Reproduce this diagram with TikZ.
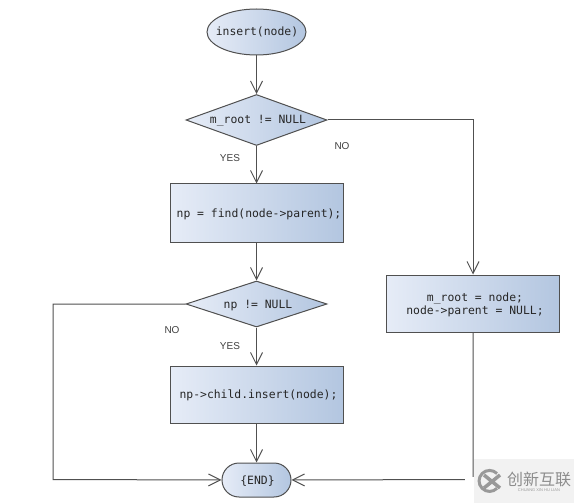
\documentclass[tikz,border=0pt]{standalone}
\usepackage{fontspec}
\setmainfont{Liberation Sans}
\setmonofont{DejaVu Sans Mono}
\newfontfamily\cjkfont{Noto Sans CJK SC}
\usetikzlibrary{shapes.geometric,shapes.misc,arrows.meta}
\definecolor{lineg}{HTML}{505050}
\definecolor{shadeL}{HTML}{E6ECF7}
\definecolor{shadeR}{HTML}{B3C6E0}
% text placed with a known offset from the centre of its node
\newcommand{\tl}[3][-4pt]{\raisebox{#1}[0pt][0pt]{\makebox[0pt]{\hspace{#2}#3}}}
\tikzset{
  x=1pt,y=-1pt,
  flow/.style={draw=lineg,line width=1pt,left color=shadeL,right color=shadeR,inner sep=0pt,
    font=\fontsize{11.4}{12}\selectfont\ttfamily,text=black!85},
  procbox/.style={flow,rectangle,minimum width=173pt,minimum height=58pt},
  decision/.style={flow,diamond,minimum width=141pt,minimum height=51pt,aspect=2.76},
  startnode/.style={flow,ellipse,minimum width=99pt,minimum height=46pt},
  endnode/.style={flow,rounded rectangle,minimum width=69pt,minimum height=34pt},
  conn/.style={draw=lineg,line width=1pt,-{Straight Barb[length=12pt,width=12pt,line width=1pt]}},
  lab/.style={font=\fontsize{10}{12}\selectfont,text=black!75,inner sep=0pt},
}
\begin{document}
\begin{tikzpicture}
\useasboundingbox (0,0) rectangle (574,503);
\fill[white] (0,0) rectangle (574,503);
\node[startnode] (start) at (256.5,32) {\tl{1pt}{insert(node)}};
\node[decision] (d1) at (256.5,120) {\tl{3pt}{m\_root != NULL}};
\node[procbox] (find) at (256.5,213) {\tl{5pt}{np = find(node->parent);}};
\node[decision,minimum height=46pt,aspect=3.04] (d2) at (256.5,304) {\tl{3pt}{np != NULL}};
\node[procbox,minimum height=57pt] (ins) at (256.5,394.5) {\tl{4pt}{np->child.insert(node);}};
\node[endnode] (end) at (256.5,480) {\tl{2pt}{\{END\}}};
\node[procbox,minimum height=57pt] (root) at (473,303.5) {\tl[-10.5pt]{4pt}{\begin{tabular}[b]{@{}c@{}}m\_root = node;\\node->parent = NULL;\end{tabular}}};
\coordinate (c1) at (473,120);
\coordinate (c2) at (473,479.5);
\coordinate (c3) at (53,304);
\coordinate (c4) at (53,479.5);
\draw[conn] (start) -- (d1);
\draw[conn] (d1) -- (find);
\draw[conn] (find) -- (d2);
\draw[conn] (d2) -- (ins);
\draw[conn] (ins) -- (end);
\draw[conn] (d1.east) -- (c1) -- (root.north);
\draw[conn] (d2.west) -- (c3) -- (c4) -- (end.west);
\draw[conn] (root.south) -- (c2) -- (end.east);
\node[lab] (y1) at (230,158) {YES};
\node[lab] (n1) at (342,146) {NO};
\node[lab] (n2) at (172,330) {NO};
\node[lab] (y2) at (230,346) {YES};
% watermark over the end of the connector
\fill[white] (465,477) rectangle (474,503);
\fill[black!5] (474,459) rectangle (574,503);
\draw[black!40,line width=3pt] (497,473.5) arc[start angle=45,end angle=315,radius=10.5pt];
\draw[black!40,line width=3.5pt] (484,475) -- (500,488) (484,488) -- (500,475);
\node[font=\cjkfont\fontsize{16}{16}\selectfont,text=black!45,inner sep=0pt] (wt) at (539,479.5) {创新互联};
\node[font=\fontsize{4}{4}\selectfont,text=black!40,inner sep=0pt] (ws) at (539,490) {CHUANG XIN HU LIAN};
\end{tikzpicture}
\end{document}
